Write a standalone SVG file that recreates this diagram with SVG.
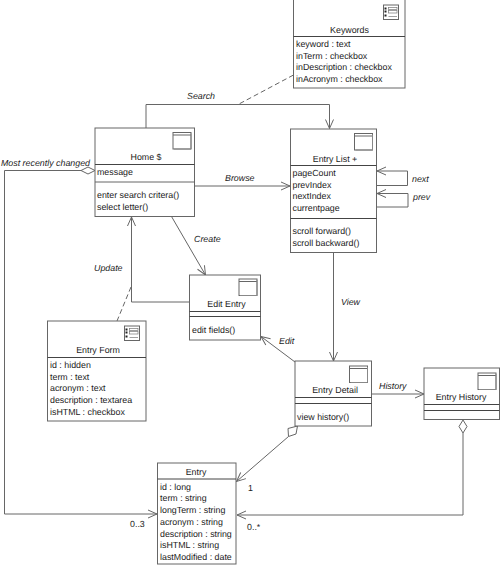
<svg xmlns="http://www.w3.org/2000/svg" width="500" height="565" viewBox="0 0 500 565">
<defs>
<style>
text{font-family:"Liberation Sans",Arial,sans-serif;font-size:8.85px;fill:#222;text-rendering:geometricPrecision}
.c{text-anchor:middle}
.l{font-style:italic}
.b{fill:#fff;stroke:#666;stroke-width:1}
.d{fill:none;stroke:#444;stroke-width:1}
.w{fill:none;stroke:#666;stroke-width:1}
.cn{fill:none;stroke:#666;stroke-width:1}
.da{stroke-dasharray:5 3}
.dm{fill:#fff;stroke:#666;stroke-width:1}
</style>
<marker id="a" markerUnits="userSpaceOnUse" markerWidth="12" markerHeight="12" refX="9" refY="5" orient="auto" overflow="visible"><path d="M0 1L9 5L0 9" fill="none" stroke="#666" stroke-width="1"/></marker>
<g id="win"><rect x="0" y="0" width="18" height="16.5" class="w"/><path d="M0 2.5H18" class="w"/><path d="M1 16.500H18V1" fill="none" stroke="#888" stroke-width="1"/></g>
<g id="form"><rect x="0" y="0" width="15" height="14.5" fill="#fff" stroke="#666"/><path d="M1 2.5H3V4.5H1ZM1 5.5H3V7.5H1ZM1 9.5H3V11.5H1Z" fill="#222"/><rect x="5" y="2.500" width="8.500" height="2" fill="none" stroke="#777" stroke-width=".7"/><rect x="5" y="5.500" width="8.500" height="2.500" fill="none" stroke="#777" stroke-width=".7"/><path d="M5 11.500H13.500" stroke="#777" stroke-width=".7"/></g>
</defs>
<rect width="500" height="565" fill="#fff"/>
<g id="connectors">
<path class="cn" d="M146 128V104.500H329.500V128.500" marker-end="url(#a)"/>
<path class="cn da" d="M293.500 75L239 104"/>
<path class="cn" d="M194.500 186H290" marker-end="url(#a)"/>
<path class="cn" d="M376 185.500H407.500V171H377" marker-end="url(#a)"/>
<path class="cn" d="M376 207H408V193.500H377" marker-end="url(#a)"/>
<path class="cn" d="M333.500 252.500V361" marker-end="url(#a)"/>
<path class="cn" d="M171.500 216.500L205.500 275" marker-end="url(#a)"/>
<path class="cn" d="M189.500 302H131.500V217" marker-end="url(#a)"/>
<path class="cn da" d="M131 287L117 321"/>
<path class="cn" d="M295 362L261 336.500" marker-end="url(#a)"/>
<path class="cn" d="M371.500 394H424" marker-end="url(#a)"/>
<path class="cn" d="M81 170.500H4.500V514H157" marker-end="url(#a)"/>
<path class="dm" d="M95 170.500L88 167L81 170.500L88 174Z"/>
<path class="cn" d="M288.500 436.500L236.500 481.500" marker-end="url(#a)"/>
<path class="dm" d="M297.500 426L288 428.500L288.500 436.500L296 434Z"/>
<path class="cn" d="M463 433V515H237" marker-end="url(#a)"/>
<path class="dm" d="M463 420L459 426.500L463 433L467 426.500Z"/>
</g>
<g id="keywords"><rect class="b" x="293.500" y="-1" width="111.500" height="89"/><path class="d" d="M293.500 36.500H405"/><use href="#form" x="383.500" y="5"/><text class="c" x="349.500" y="32.500">Keywords</text><text x="296" y="47">keyword : text</text><text x="296" y="58.500">inTerm : checkbox</text><text x="296" y="70">inDescription : checkbox</text><text x="296" y="82">inAcronym : checkbox</text></g>
<g id="home"><rect class="b" x="95" y="128" width="99.500" height="88.500"/><path class="d" d="M95 164.500H194.500"/><path class="w" d="M95 182H194.500"/><use href="#win" x="173" y="132.500"/><text class="c" x="146" y="160">Home $</text><text x="97" y="175">message</text><text x="97" y="198">enter search critera()</text><text x="97" y="210">select letter()</text></g>
<g id="entry-list"><rect class="b" x="290.500" y="129" width="86" height="123.500"/><path class="d" d="M290.500 165.500H376.500M290.500 218.500H376.500"/><use href="#win" x="354.500" y="133.500"/><text class="c" x="335" y="161.500">Entry List +</text><text x="292.500" y="176">pageCount</text><text x="292.500" y="187.500">prevIndex</text><text x="292.500" y="199">nextIndex</text><text x="292.500" y="211">currentpage</text><text x="292.500" y="234">scroll forward()</text><text x="292.500" y="246">scroll backward()</text></g>
<g id="edit-entry"><rect class="b" x="189.500" y="275" width="71" height="65"/><path class="d" d="M189.500 311.500H260.500M189.500 316.500H260.500"/><use href="#win" x="239" y="279"/><text class="c" x="226.500" y="307">Edit Entry</text><text x="192" y="333">edit fields()</text></g>
<g id="entry-form"><rect class="b" x="47.500" y="321" width="98.500" height="100"/><path class="d" d="M47.500 357.500H146"/><use href="#form" x="124.500" y="326"/><text class="c" x="98" y="353">Entry Form</text><text x="50" y="368">id : hidden</text><text x="50" y="379.500">term : text</text><text x="50" y="391">acronym : text</text><text x="50" y="403">description : textarea</text><text x="50" y="414.500">isHTML : checkbox</text></g>
<g id="entry-detail"><rect class="b" x="295" y="361" width="76.500" height="65"/><path class="d" d="M295 397.500H371.500M295 403.500H371.500"/><use href="#win" x="349.500" y="366"/><text class="c" x="335" y="393">Entry Detail</text><text x="297" y="419.500">view history()</text></g>
<g id="entry-history"><rect class="b" x="424" y="368" width="75.500" height="51.500"/><path class="d" d="M424 404.500H499.500M424 410.500H499.500"/><use href="#win" x="478" y="373"/><text class="c" x="461" y="400">Entry History</text></g>
<g id="entry"><rect class="b" x="157.500" y="463" width="78.500" height="101"/><path class="d" d="M157.500 479H236"/><text class="c" x="196" y="475">Entry</text><text x="160" y="489.500">id : long</text><text x="160" y="501">term : string</text><text x="160" y="513">longTerm : string</text><text x="160" y="524.500">acronym : string</text><text x="160" y="536.500">description : string</text><text x="160" y="548">isHTML : string</text><text x="160" y="560">lastModified : date</text></g>
<g id="labels">
<text class="l" x="187" y="99">Search</text>
<text class="l" x="225" y="181">Browse</text>
<text class="l" x="412" y="182">next</text>
<text class="l" x="413" y="200">prev</text>
<text class="l" x="194" y="242">Create</text>
<text class="l" x="94" y="271">Update</text>
<text class="l" x="341" y="305">View</text>
<text class="l" x="279" y="344">Edit</text>
<text class="l" x="379" y="389">History</text>
<text class="l" x="1" y="166">Most recently changed</text>
<text x="130" y="527">0..3</text>
<text x="248" y="491">1</text>
<text x="247" y="530">0..*</text>
</g>
</svg>
